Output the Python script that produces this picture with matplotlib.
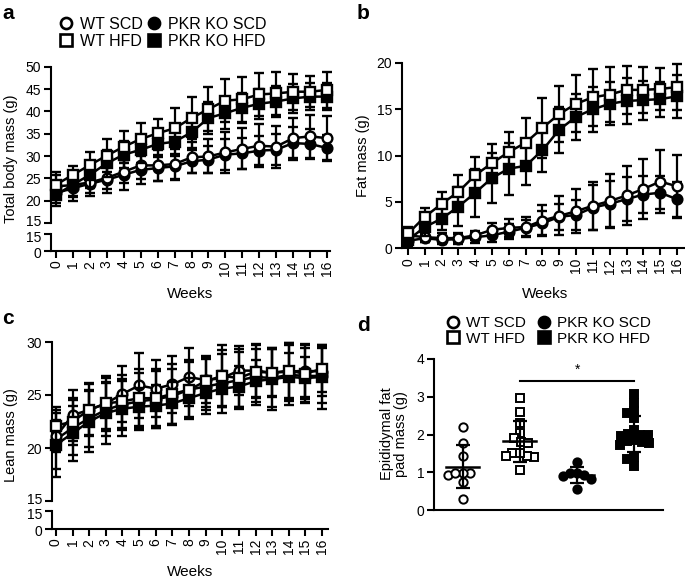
import numpy as np
import matplotlib
matplotlib.use('Agg')
import matplotlib.pyplot as plt
from matplotlib.lines import Line2D
from matplotlib.transforms import ScaledTranslation

plt.rcParams['font.family'] = ['Liberation Sans', 'DejaVu Sans']
plt.rcParams['axes.linewidth'] = 1.5

weeks = np.arange(17)
groups = ['WT SCD', 'PKR KO SCD', 'WT HFD', 'PKR KO HFD']

# a: total body mass (g), mean and SD
tbm_wt_scd = [23.2, 23.5, 24.1, 25.1, 26.5, 27.9, 27.9, 28.2, 29.7, 29.9, 30.8, 31.6, 32.3, 32.1, 34.0, 34.4, 34.0]
tbm_ko_scd = [21.7, 22.8, 23.8, 24.7, 25.8, 26.9, 27.3, 27.7, 28.8, 29.2, 30.3, 30.6, 31.2, 31.4, 32.9, 32.7, 31.8]
tbm_wt_hfd = [23.6, 25.8, 28.0, 30.1, 32.1, 33.8, 35.1, 36.2, 38.5, 40.5, 42.4, 42.7, 43.8, 44.0, 44.4, 44.4, 44.8]
tbm_ko_hfd = [21.3, 23.6, 25.8, 28.4, 30.3, 31.4, 32.7, 33.2, 35.3, 38.5, 39.6, 40.8, 41.7, 42.2, 42.9, 43.3, 43.3]
tbm_wt_scd_sd = [2.5, 2.5, 2.3, 2.5, 2.5, 3.0, 3.5, 3.5, 3.5, 3.8, 4.5, 4.6, 4.8, 4.7, 4.5, 4.8, 4.9]
tbm_ko_scd_sd = [2.3, 2.8, 2.8, 3.0, 3.3, 3.2, 3.0, 2.8, 2.6, 3.0, 3.4, 3.4, 3.2, 3.5, 3.7, 3.4, 3.0]
tbm_wt_hfd_sd = [2.9, 2.0, 3.0, 3.7, 3.6, 3.5, 3.2, 4.6, 4.8, 4.9, 4.8, 5.1, 4.9, 4.9, 4.0, 3.5, 4.1]
tbm_ko_hfd_sd = [2.5, 2.8, 3.0, 3.0, 3.0, 3.0, 3.0, 3.2, 3.4, 3.5, 3.5, 3.4, 3.3, 3.4, 3.2, 3.0, 3.0]

# b: fat mass (g)
fat_wt_scd = [1.4, 1.2, 1.1, 1.1, 1.4, 2.0, 2.2, 2.3, 3.0, 3.5, 4.0, 4.6, 5.1, 5.7, 6.4, 7.2, 6.7]
fat_ko_scd = [0.8, 1.1, 0.9, 1.0, 1.2, 1.4, 1.8, 2.2, 2.7, 3.4, 3.6, 4.4, 4.8, 5.3, 5.8, 6.0, 5.3]
fat_wt_hfd = [1.6, 3.4, 4.8, 6.1, 7.9, 9.2, 10.4, 11.4, 13.0, 14.5, 15.6, 16.3, 16.6, 17.1, 17.1, 17.2, 17.4]
fat_ko_hfd = [0.9, 2.3, 3.2, 4.5, 6.0, 7.6, 8.6, 8.9, 10.6, 12.8, 14.2, 15.0, 15.6, 15.9, 16.0, 16.1, 16.4]
fat_wt_scd_sd = [0.6, 0.5, 0.5, 0.5, 0.5, 0.7, 1.0, 1.1, 1.7, 2.1, 2.4, 2.6, 2.9, 3.2, 3.2, 3.4, 3.4]
fat_ko_scd_sd = [0.4, 0.4, 0.4, 0.5, 0.6, 0.7, 0.8, 0.9, 1.3, 1.4, 1.6, 2.4, 2.5, 2.4, 2.0, 1.8, 1.9]
fat_wt_hfd_sd = [0.7, 0.9, 1.3, 1.8, 2.0, 2.1, 2.1, 2.7, 3.2, 3.0, 3.1, 3.1, 3.0, 2.6, 2.5, 2.3, 2.5]
fat_ko_hfd_sd = [0.6, 1.0, 1.2, 2.1, 2.6, 2.7, 2.8, 2.1, 2.4, 2.5, 2.5, 2.4, 2.3, 2.5, 2.1, 1.9, 2.3]

# c: lean mass (g)
lean_wt_scd = [21.1, 23.1, 23.6, 24.2, 25.1, 25.9, 25.6, 26.0, 26.7, 26.4, 26.6, 27.3, 27.3, 27.1, 27.2, 27.3, 27.2]
lean_ko_scd = [20.8, 21.9, 22.8, 23.6, 24.1, 24.4, 24.6, 24.9, 25.5, 25.8, 26.1, 26.4, 26.7, 26.6, 26.9, 26.8, 26.8]
lean_wt_hfd = [22.1, 22.5, 23.6, 24.2, 24.4, 24.7, 24.7, 25.1, 25.5, 26.3, 26.8, 26.6, 27.2, 27.1, 27.3, 27.0, 27.5]
lean_ko_hfd = [20.3, 21.4, 22.5, 23.3, 23.7, 23.9, 24.0, 24.2, 24.7, 25.2, 25.6, 25.8, 26.3, 26.5, 26.7, 26.6, 26.7]
lean_wt_scd_sd = [1.5, 2.4, 2.4, 2.6, 2.6, 3.1, 2.7, 2.7, 2.7, 2.2, 2.6, 2.3, 2.5, 2.2, 2.7, 2.5, 2.3]
lean_ko_scd_sd = [2.8, 2.6, 2.7, 2.5, 2.4, 2.7, 2.7, 2.6, 2.8, 2.6, 2.8, 2.7, 2.6, 2.7, 2.8, 2.6, 2.6]
lean_wt_hfd_sd = [1.8, 2.2, 2.5, 2.4, 2.5, 2.8, 2.8, 2.8, 2.6, 2.4, 2.9, 2.7, 2.5, 2.3, 2.6, 2.7, 2.2]
lean_ko_hfd_sd = [3.0, 2.6, 2.9, 2.9, 2.6, 1.8, 1.9, 2.0, 1.9, 1.6, 1.7, 1.9, 2.0, 2.9, 2.3, 2.0, 3.0]

# d: epididymal fat pad mass (g), individual mice
epi_wt_scd = [2.20, 1.78, 1.44, 0.94, 0.99, 0.75, 0.99, 0.99, 0.28]
epi_wt_hfd = [2.96, 2.59, 2.30, 2.03, 1.90, 1.80, 1.78, 1.50, 1.42, 1.40, 1.42, 1.50, 1.06]
epi_ko_scd = [1.28, 0.97, 0.90, 0.93, 0.83, 0.99, 0.55]
epi_ko_hfd = [3.06, 2.83, 2.63, 2.56, 2.43, 2.12, 2.02, 1.98, 1.95, 1.95, 2.00,
              1.85, 1.82, 1.78, 1.80, 1.72, 1.90, 1.41, 1.35, 1.16]
sig_y = 3.42

styles = {
    'WT SCD': dict(marker='o', mfc='white'),
    'PKR KO SCD': dict(marker='o', mfc='black'),
    'WT HFD': dict(marker='s', mfc='white'),
    'PKR KO HFD': dict(marker='s', mfc='black'),
}
draw_order = ['PKR KO SCD', 'WT SCD', 'PKR KO HFD', 'WT HFD']

W, H = 685, 580
fig = plt.figure(figsize=(W / 100, H / 100), dpi=100)


def box(x0, y0, x1, y1):
    # pixel box (top-left origin) -> figure fraction rect
    return [x0 / W, 1 - y1 / H, (x1 - x0) / W, (y1 - y0) / H]


def nudge(label, dy_px):
    label.set_transform(label.get_transform() + ScaledTranslation(0, dy_px / 100, fig.dpi_scale_trans))


def series_plot(ax, data):
    for z, g in enumerate(draw_order):
        m, sd = data[g]
        ax.errorbar(weeks, m, yerr=sd, color='black', lw=1.8, ms=7, mec='black',
                    mew=1.7, elinewidth=1.6, capsize=3.6, capthick=1.9,
                    zorder=3 + z, clip_on=False, **styles[g])


def week_axis(ax, xlim):
    ax.set_xlim(*xlim)
    ax.set_xticks(weeks)
    ax.set_xticklabels([str(w) for w in weeks], rotation=90)
    ax.tick_params(axis='x', length=5, width=1.5, labelsize=10, pad=2)


def broken(upper_box, lower_box, xlim, ylim, yticks, data):
    ax_u = fig.add_axes(box(*upper_box))
    ax_l = fig.add_axes(box(*lower_box))
    series_plot(ax_u, data)
    ax_u.set_xlim(*xlim)
    ax_u.set_ylim(*ylim)
    ax_u.set_yticks(yticks)
    for s in ['top', 'right', 'bottom']:
        ax_u.spines[s].set_visible(False)
    ax_u.set_xticks([])
    ax_u.tick_params(axis='y', length=5, width=1.5, labelsize=10, pad=2)
    ax_u.patch.set_alpha(0)
    ax_l.set_ylim(0, 15)
    ax_l.set_yticks([0, 15])
    for s in ['top', 'right']:
        ax_l.spines[s].set_visible(False)
    ax_l.tick_params(axis='y', length=5, width=1.5, labelsize=10, pad=2)
    week_axis(ax_l, xlim)
    ax_l.patch.set_alpha(0)
    # keep the two "15" labels of the break apart
    nudge(ax_u.get_yticklabels()[0], 2.5)
    nudge(ax_l.get_yticklabels()[1], -2.5)
    nudge(ax_l.get_yticklabels()[0], -1)
    return ax_u, ax_l


def legend(x, y, size, spacing):
    hs = [Line2D([], [], ls='none', ms=8, mec='black', mew=1.9, **styles[g])
          for g in ['WT SCD', 'WT HFD', 'PKR KO SCD', 'PKR KO HFD']]
    labs = ['WT SCD', 'WT HFD', 'PKR KO SCD', 'PKR KO HFD']
    fig.legend(hs, labs, ncol=2, loc='upper left', bbox_to_anchor=(x / W, 1 - y / H),
               frameon=False, fontsize=size, handlelength=0.8, handletextpad=0.45,
               columnspacing=spacing, labelspacing=0.12, borderpad=0, borderaxespad=0)


# panel a
broken((51, 66.7, 330, 223), (51, 234, 330, 251), (-0.3, 16.18), (15, 50),
       [15, 20, 25, 30, 35, 40, 45, 50],
       {'WT SCD': (tbm_wt_scd, tbm_wt_scd_sd), 'PKR KO SCD': (tbm_ko_scd, tbm_ko_scd_sd),
        'WT HFD': (tbm_wt_hfd, tbm_wt_hfd_sd), 'PKR KO HFD': (tbm_ko_hfd, tbm_ko_hfd_sd)})
fig.text(11 / W, 1 - 159 / H, 'Total body mass (g)', rotation=90, ha='center', va='center', fontsize=10.5)
fig.text(190 / W, 1 - 294 / H, 'Weeks', ha='center', va='center', fontsize=11)
legend(60, 17, 11.5, 0.3)

# panel b
ax_b = fig.add_axes(box(402, 63, 685, 248.3))
series_plot(ax_b, {'WT SCD': (fat_wt_scd, fat_wt_scd_sd), 'PKR KO SCD': (fat_ko_scd, fat_ko_scd_sd),
                   'WT HFD': (fat_wt_hfd, fat_wt_hfd_sd), 'PKR KO HFD': (fat_ko_hfd, fat_ko_hfd_sd)})
ax_b.set_ylim(0, 20)
ax_b.set_yticks([0, 5, 10, 15, 20])
for s in ['top', 'right']:
    ax_b.spines[s].set_visible(False)
ax_b.tick_params(axis='y', length=5, width=1.5, labelsize=10, pad=2)
week_axis(ax_b, (-0.36, 16.48))
ax_b.patch.set_alpha(0)
fig.text(363 / W, 1 - 155.5 / H, 'Fat mass (g)', rotation=90, ha='center', va='center', fontsize=10.5)
fig.text(545 / W, 1 - 294 / H, 'Weeks', ha='center', va='center', fontsize=11)

# panel c
broken((52, 342, 328, 501), (52, 511, 328, 529), (-0.24, 16.36), (15, 30),
       [15, 20, 25, 30],
       {'WT SCD': (lean_wt_scd, lean_wt_scd_sd), 'PKR KO SCD': (lean_ko_scd, lean_ko_scd_sd),
        'WT HFD': (lean_wt_hfd, lean_wt_hfd_sd), 'PKR KO HFD': (lean_ko_hfd, lean_ko_hfd_sd)})
fig.text(11 / W, 1 - 435.5 / H, 'Lean mass (g)', rotation=90, ha='center', va='center', fontsize=10.5)
fig.text(190 / W, 1 - 572 / H, 'Weeks', ha='center', va='center', fontsize=11)

# panel d
ax_d = fig.add_axes(box(434, 359, 663, 510))
ax_d.set_xlim(0.5, 4.5)
ax_d.set_ylim(0, 4)
px_x = (663 - 434) / 4.0
px_y = (510 - 359) / 4.0


def swarm(vals, d, maxw):
    vals = np.asarray(vals) * px_y
    placed = []
    offs = np.zeros(len(vals))
    for i in np.argsort(vals)[::-1]:
        y = vals[i]
        cands = [0.0]
        for xj, yj in placed:
            dy = y - yj
            if abs(dy) < d:
                dx = np.sqrt(d * d - dy * dy)
                cands += [xj - dx, xj + dx]
        cands = [c for c in cands if abs(c) <= maxw] or [0.0]
        cands.sort(key=lambda c: (abs(c), c))
        best = cands[0]
        for c in cands:
            if all((c - xj) ** 2 + (y - yj) ** 2 >= d * d - 1e-6 for xj, yj in placed):
                best = c
                break
        offs[i] = best
        placed.append((best, y))
    return offs / px_x


d_data = {'WT SCD': epi_wt_scd, 'WT HFD': epi_wt_hfd, 'PKR KO SCD': epi_ko_scd, 'PKR KO HFD': epi_ko_hfd}
for k, g in enumerate(['WT SCD', 'WT HFD', 'PKR KO SCD', 'PKR KO HFD']):
    v = np.array(d_data[g])
    xs = (k + 1) + swarm(v, 7.5, 16)
    ax_d.plot(xs, v, ls='none', ms=6, mec='black', mew=1.4, zorder=3, **styles[g])
    m, sd = v.mean(), v.std(ddof=1)
    ax_d.plot([k + 1 - 0.29, k + 1 + 0.29], [m, m], color='black', lw=1.8, zorder=4)
    ax_d.errorbar([k + 1], [m], yerr=[sd], fmt='none', ecolor='black', elinewidth=1.6,
                  capsize=5, capthick=1.6, zorder=4)
ax_d.plot([2, 4], [sig_y, sig_y], color='black', lw=1.5)
ax_d.text(3, sig_y + 0.12, '*', ha='center', va='bottom', fontsize=10)
for s in ['top', 'right']:
    ax_d.spines[s].set_visible(False)
ax_d.set_xticks([])
ax_d.set_yticks([0, 1, 2, 3, 4])
ax_d.tick_params(axis='y', length=5, width=1.5, labelsize=10, pad=2)
ax_d.patch.set_alpha(0)
fig.text(394.5 / W, 1 - 434 / H, 'Epididymal fat\npad mass (g)', rotation=90, ha='center',
         va='center', fontsize=10.5, multialignment='center', linespacing=1.0)
legend(447, 316, 11, 0.8)

# panel letters
fig.text(2 / W, 1 - 19 / H, 'a', weight='bold', fontsize=15)
fig.text(357 / W, 1 - 19 / H, 'b', weight='bold', fontsize=15)
fig.text(2 / W, 1 - 324 / H, 'c', weight='bold', fontsize=15)
fig.text(357 / W, 1 - 331 / H, 'd', weight='bold', fontsize=15)

fig.savefig('out.png', dpi=100)
